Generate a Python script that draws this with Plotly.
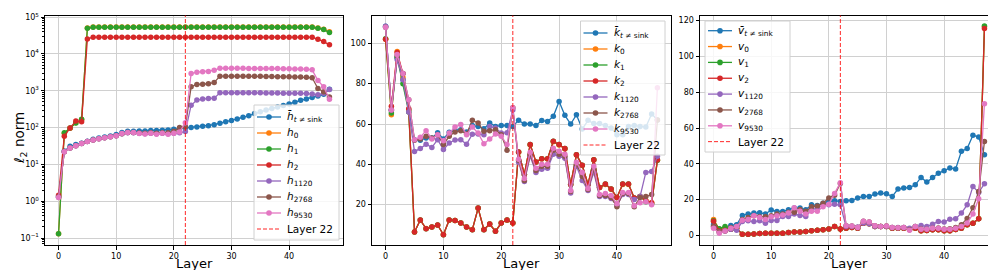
import plotly.graph_objects as go

layers = list(range(48))
split_layer = 22
x_ticks = [0, 10, 20, 30, 40]

# ---------------- panel 1 : hidden states (log scale) ----------------
h_bar = [1.3, 23, 31, 34.5, 37.5, 42.5, 48, 52, 55.7, 59,
         64.5, 73, 79.5, 79.5, 81, 81, 83, 83, 84.6, 86,
         90, 94, 98, 100, 104, 108, 113, 120, 132, 143,
         155, 170, 190, 210, 240, 270, 300, 330, 360, 400,
         440, 490, 550, 600, 660, 720, 800, 1100]
h_0 = [0.13, 70, 96, 135, 165, 51000, 54000, 54000, 54000, 54000,
       54000, 54000, 54000, 54000, 54000, 54000, 54000, 54000, 54000, 54000,
       54000, 54000, 54000, 54000, 54000, 54000, 54000, 54000, 54000, 54000,
       54000, 54000, 54000, 54000, 54000, 54000, 54000, 54000, 54000, 54000,
       54000, 54000, 54000, 54000, 54000, 51000, 47000, 40000]
h_1 = [0.13, 72, 98, 134, 168, 50000, 53000, 53000, 53000, 53000,
       53000, 53000, 53000, 53000, 53000, 53000, 53000, 53000, 53000, 53000,
       53000, 53000, 53000, 53000, 53000, 53000, 53000, 53000, 53000, 53000,
       53000, 53000, 53000, 53000, 53000, 53000, 53000, 53000, 53000, 53000,
       53000, 53000, 53000, 53000, 53000, 50000, 46000, 38000]
h_2 = [1.46, 58, 98, 150, 143, 25500, 28500, 28500, 28500, 28500,
       28500, 28500, 28500, 28500, 28500, 28500, 28500, 28500, 28500, 28500,
       28500, 28500, 28500, 28500, 28500, 28500, 28500, 28500, 28500, 28500,
       28500, 28500, 28500, 28500, 28500, 28500, 28500, 28500, 28500, 28500,
       28500, 28500, 28500, 28500, 28500, 25000, 21700, 17700]
h_1120 = [1.3, 22, 28, 32, 37, 42, 46, 50, 53, 56,
          60, 68, 72, 72, 70, 68, 70, 68, 70, 68,
          70, 72, 78, 405, 560, 600, 620, 630, 880, 890,
          890, 890, 890, 880, 880, 880, 870, 870, 870, 860,
          860, 850, 850, 840, 820, 780, 850, 1080]
h_2768 = [1.3, 22, 28, 32, 37, 42, 46, 50, 53, 56,
          60, 68, 73, 73, 71, 70, 72, 70, 72, 72,
          80, 100, 105, 1290, 1480, 1500, 1550, 1680, 2500, 2500,
          2500, 2500, 2500, 2500, 2480, 2480, 2450, 2450, 2420, 2400,
          2400, 2380, 2350, 2320, 2250, 1150, 940, 680]
h_9530 = [1.26, 22, 28, 32, 37, 42, 46, 50, 53, 56,
          60, 68.6, 73, 73, 69, 67, 70, 66, 70, 66,
          70, 76, 135, 2950, 3200, 3300, 3350, 3600, 4100, 4100,
          4100, 4100, 4100, 4050, 4050, 4050, 4000, 4000, 4000, 3950,
          3950, 3900, 3900, 3850, 3700, 1900, 1280, 590]

# ---------------- panel 2 : keys ----------------
k_bar = [108.5, 67, 93, 82, 67, 52.2, 52, 53, 53, 55.7,
         52.6, 55.9, 56.9, 57.2, 56, 59.3, 58.7, 57.7, 60.5, 58.8,
         59.2, 59.2, 58.8, 61.8, 60, 60, 59.3, 61.7, 61.3, 63.8,
         71.2, 64.3, 60, 64.6, 57.5, 61.8, 60.2, 60.2, 59.2, 58,
         54.7, 54.7, 58.8, 59.3, 58.8, 58.5, 65, 62]
k_0 = [102, 64.6, 96, 83, 67, 6.5, 12.3, 8.2, 8.9, 9.8,
       5.2, 12.3, 12.1, 10.9, 8.9, 7.7, 18.2, 7.7, 10.4, 6.9,
       10.9, 12.3, 10.9, 46, 35, 49.6, 41.2, 42.6, 42.6, 51.2,
       49.6, 47.6, 30, 44.6, 39.4, 30, 42.2, 28.5, 30, 27.7,
       23.5, 30, 30, 23.2, 24, 22, 21, 42]
k_1 = [102.3, 65.5, 93, 80, 66, 6.4, 12.4, 8.1, 8.9, 9.9,
       5.1, 12.4, 12.1, 10.9, 8.9, 7.6, 18.3, 7.6, 10.4, 6.8,
       10.9, 12.4, 10.9, 46.1, 35, 49.8, 41.2, 42.8, 42.8, 51.4,
       49.8, 47.8, 30, 44.8, 39.5, 30, 42.3, 28.5, 30.2, 27.8,
       23.6, 30.2, 30.2, 23.3, 24.1, 21.5, 20.5, 42]
k_2 = [102, 68.8, 95.5, 85, 67.5, 6.4, 12.4, 8.1, 8.9, 9.9,
       5.1, 12.4, 12.1, 10.9, 8.9, 7.6, 18.3, 7.6, 10.4, 6.8,
       10.9, 12.4, 10.9, 46.1, 35, 49.8, 41.2, 42.8, 42.8, 51.4,
       49.8, 47.8, 30, 44.8, 39.5, 30, 42.3, 28.5, 30.2, 27.8,
       23.6, 30.2, 30.2, 23.3, 24.1, 22, 21, 42.3]
k_1120 = [108.5, 67, 92, 82, 66, 46.4, 47.8, 50, 48.4, 52.2,
          47.3, 50.6, 52.1, 52.2, 50, 54.9, 55, 54.7, 58.8, 58,
          55.5, 55.7, 67, 41, 31.5, 44, 36, 37.5, 38, 45,
          44, 43, 25.8, 39, 32, 27, 36, 24, 24, 23,
          19.5, 25, 25, 22.5, 24, 36, 36.5, 44]
k_2768 = [108, 67, 94, 85, 72, 52, 52.5, 53.9, 53, 54.7,
          49.8, 53.9, 56, 56.7, 55, 61.8, 60.5, 56.4, 56.7, 57.2,
          54.7, 47, 68, 42, 32, 45, 37, 39, 39, 47,
          45, 44, 26.5, 40, 34, 27.5, 37.5, 24.5, 24.5, 23.5,
          19, 25.5, 25.5, 19, 23.5, 24, 25, 62]
k_9530 = [108, 67, 94.4, 85, 72, 52.2, 53.4, 56.7, 52.6, 54.7,
          51.7, 55.5, 58.5, 59.7, 54.7, 58.5, 55.5, 50.2, 52.6, 55,
          53.9, 49.8, 68, 42.5, 33, 46, 38, 40, 40, 48,
          46.5, 45, 27, 41, 36, 28, 39, 25, 25.5, 24.5,
          20.5, 26, 26, 19.5, 21, 21.5, 20, 78]

# ---------------- panel 3 : values ----------------
v_bar = [6, 3.5, 4, 5.6, 6, 11.2, 12, 12.5, 12.7, 12,
         14.2, 13.4, 13.4, 14.4, 15.3, 15.3, 14.4, 17.1, 16.8, 18,
         19, 19.4, 19, 19.4, 19.6, 20.9, 21.8, 21.8, 23.1, 23.7,
         23.3, 21.8, 25.9, 26.5, 26.8, 28.3, 32.4, 29.8, 32.4, 34.7,
         36.2, 37.7, 37.1, 47, 48.5, 55.9, 55, 45.1]
v_0 = [9, 3.5, 4.5, 3.5, 4, 0.7, 0.7, 0.9, 1.1, 1.3,
       1.3, 1.3, 1.3, 1.7, 1.9, 2, 2.2, 2.6, 3, 3.2,
       3.7, 5, 3.7, 4, 4.5, 4, 6.9, 6.5, 5, 5,
       5, 4, 4, 4, 3.7, 4, 2.6, 2.8, 3.2, 3.2,
       2.6, 2.6, 3.4, 4, 6, 6.9, 9.3, 116.5]
v_1 = [8.2, 3.8, 5, 3.5, 4, 0.7, 0.7, 0.9, 1.1, 1.3,
       1.3, 1.3, 1.3, 1.7, 1.9, 2, 2.2, 2.6, 3, 3.2,
       3.7, 5, 3.7, 4, 4.5, 4, 6.9, 6.5, 5, 5,
       5, 4, 4, 4, 3.7, 4, 2.6, 2.8, 3.2, 3.2,
       2.6, 2.6, 3.4, 4, 6, 6.9, 9.3, 117]
v_2 = [8, 2.5, 3, 3.5, 4, 0.7, 0.7, 0.9, 1.1, 1.3,
       1.3, 1.3, 1.3, 1.7, 1.9, 2, 2.2, 2.6, 3, 3.2,
       3.7, 5, 3.7, 4, 4.5, 4, 6.9, 6.5, 5, 5,
       5, 4, 4, 4, 3.7, 4, 2.6, 2.8, 3.2, 3.2,
       2.6, 2.6, 3.4, 4, 6, 6.9, 9.3, 115.6]
v_1120 = [5, 2, 2.5, 3.5, 3, 7.8, 8.2, 7.8, 8.2, 6.9,
          8.4, 8.4, 10.6, 10.6, 12, 11.2, 10.6, 14.4, 15.3, 17.1,
          17.1, 17.5, 17.1, 5, 5, 4.8, 7, 6.5, 5, 5,
          5, 4.5, 4.5, 4.5, 4, 5, 5.6, 5, 6.3, 7.8,
          7.5, 9.1, 9.3, 12.5, 17.1, 27.4, 24, 28.9]
v_2768 = [5, 2, 2.5, 4.5, 5, 9, 10, 11, 10.5, 10.5,
          11, 12, 12, 13, 13, 14.5, 13.5, 16, 16.5, 18,
          21, 22.5, 29, 5.5, 5.3, 4.5, 8, 7.5, 5.5, 5,
          5.3, 4.5, 4.3, 4.5, 3.2, 5, 3.6, 3.5, 4, 4.2,
          3.6, 3.8, 4.5, 6, 9.5, 15.5, 24.5, 52.5]
v_9530 = [4, 1.3, 2.5, 4, 5, 8.5, 9, 11, 10, 9,
          10.5, 11, 11.5, 12.5, 15.5, 13.5, 12, 13.5, 13.5, 16,
          17.5, 23.5, 29.5, 5.5, 5.3, 4.5, 8, 7.5, 5.5, 5,
          5.3, 4.5, 4.3, 4.5, 3, 5, 3.5, 3.5, 4, 4,
          3.5, 3.5, 4, 5, 7, 12, 20.5, 73.5]

log_ticks = [0.1, 1, 10, 100, 1000, 10000, 100000]
log_tick_text = ["10<sup>−1</sup>", "10<sup>0</sup>", "10<sup>1</sup>", "10<sup>2</sup>",
                 "10<sup>3</sup>", "10<sup>4</sup>", "10<sup>5</sup>"]
lin_ticks_k = [20, 40, 60, 80, 100]
lin_ticks_v = [0, 20, 40, 60, 80, 100, 120]

colors = ['#1f77b4', '#ff7f0e', '#2ca02c', '#d62728', '#9467bd', '#8c564b', '#e377c2']
suffixes = ['0', '1', '2', '1120', '2768', '9530']
VLINE_COLOR = 'rgba(255,0,0,0.85)'
VLINE_DASH = '4px,2px'


def labels(letter):
    out = [f"<i>{letter}\u0304</i><sub><i>t</i> ≠ sink</sub>"]
    out += [f"<i>{letter}</i><sub>{s}</sub>" for s in suffixes]
    return out


W, H = 996, 270
FONT = "DejaVu Sans"


def px(x):
    return x / W


def py(y):
    return 1 - y / H


# legend boxes in pixels: (left, top, right, bottom, first row y, row step)
panels = [
    ([h_bar, h_0, h_1, h_2, h_1120, h_2768, h_9530], labels('h'), 'x', 'y', (246, 97, 331, 232, 109, 16.0)),
    ([k_bar, k_0, k_1, k_2, k_1120, k_2768, k_9530], labels('k'), 'x2', 'y2', (572.5, 13, 657, 147, 25, 16.0)),
    ([v_bar, v_0, v_1, v_2, v_1120, v_2768, v_9530], labels('v'), 'x3', 'y3', (697, 13, 782, 144, 22.7, 15.85)),
]

fig = go.Figure()
shapes = []
annotations = []
for series, names, xa, ya, box in panels:
    for vals, name, col in zip(series, names, colors):
        fig.add_trace(go.Scatter(
            x=layers, y=vals, mode='lines+markers', name=name, showlegend=False,
            line=dict(color=col, width=1.3), marker=dict(size=5.5, color=col),
            xaxis=xa, yaxis=ya))
    shapes.append(dict(type='line', xref=xa, yref=f"{ya} domain", x0=split_layer, x1=split_layer,
                       y0=0, y1=1, line=dict(color=VLINE_COLOR, width=1, dash=VLINE_DASH)))
    # hand-built legend (matplotlib-like compact rows)
    bl, bt, br, bb, r0, step = box
    shapes.append(dict(type='rect', xref='paper', yref='paper', x0=px(bl), x1=px(br), y0=py(bb), y1=py(bt),
                       fillcolor='rgba(255,255,255,0.82)', line=dict(color='#d0d0d0', width=1), layer='above'))
    entries = list(zip(names, colors)) + [(f"Layer {split_layer}", None)]
    for i, (name, col) in enumerate(entries):
        yy = r0 + i * step
        gx0, gx1 = bl + 3, bl + 27
        if col is None:
            shapes.append(dict(type='line', xref='paper', yref='paper', x0=px(gx0), x1=px(gx1),
                               y0=py(yy), y1=py(yy), line=dict(color=VLINE_COLOR, width=1, dash=VLINE_DASH),
                               layer='above'))
        else:
            shapes.append(dict(type='line', xref='paper', yref='paper', x0=px(gx0), x1=px(gx1),
                               y0=py(yy), y1=py(yy), line=dict(color=col, width=1.3), layer='above'))
            cx, r = (gx0 + gx1) / 2, 2.8
            shapes.append(dict(type='circle', xref='paper', yref='paper', x0=px(cx - r), x1=px(cx + r),
                               y0=py(yy + r), y1=py(yy - r), fillcolor=col, line=dict(color=col, width=0),
                               layer='above'))
        annotations.append(dict(text=name, x=px(bl + 31), y=py(yy), xref='paper', yref='paper',
                                xanchor='left', yanchor='middle', showarrow=False,
                                font=dict(size=10.5, family=FONT, color='black')))

# axis titles
for cx in [(37 + 335) / 2, (364 + 663) / 2, (692 + 990) / 2]:
    annotations.append(dict(text='Layer', x=px(cx), y=py(255.5), xref='paper', yref='paper',
                            xanchor='center', yanchor='middle', showarrow=False,
                            font=dict(size=13, family=FONT, color='black')))
annotations.append(dict(text='<i>ℓ</i><sub>2</sub> norm', x=px(12), y=py(130), xref='paper', yref='paper',
                        xanchor='center', yanchor='middle', showarrow=False, textangle=-90,
                        font=dict(size=13.5, family=FONT, color='black')))

ydom = [1 - 237 / H, 1 - 7.5 / H]
xdoms = [[37 / W, 335 / W], [364 / W, 663 / W], [692 / W, 990 / W]]

common = dict(showline=True, linecolor='black', linewidth=1, mirror=True,
              ticks='outside', ticklen=3.5, tickwidth=1, tickcolor='black',
              showgrid=True, gridcolor='#d0d0d0', gridwidth=1, zeroline=False,
              tickfont=dict(size=8, color='black', family=FONT), automargin=False)

layout = dict(width=W, height=H, margin=dict(l=0, r=0, t=0, b=0),
              template='none', paper_bgcolor='white', plot_bgcolor='white',
              font=dict(family=FONT, color='black'), showlegend=False,
              shapes=shapes, annotations=annotations)
for i, (xd, ax) in enumerate(zip(xdoms, ['xaxis', 'xaxis2', 'xaxis3'])):
    layout[ax] = dict(domain=xd, range=[-2.35, 49.35], tickvals=x_ticks,
                      anchor=['y', 'y2', 'y3'][i], **common)
layout['yaxis'] = dict(domain=ydom, type='log', range=[-1.19, 5.045], tickvals=log_ticks,
                       ticktext=log_tick_text, anchor='x',
                       minor=dict(ticks='outside', ticklen=2, tickcolor='black', showgrid=False,
                                  tickvals=[m * 10 ** e for e in range(-2, 6) for m in range(2, 10)]),
                       **common)
layout['yaxis2'] = dict(domain=ydom, range=[0, 113.8], tickvals=lin_ticks_k, anchor='x2', **common)
layout['yaxis3'] = dict(domain=ydom, range=[-5.3, 122.8], tickvals=lin_ticks_v, anchor='x3', **common)

fig.update_layout(**layout)
fig.write_html("out.html")
